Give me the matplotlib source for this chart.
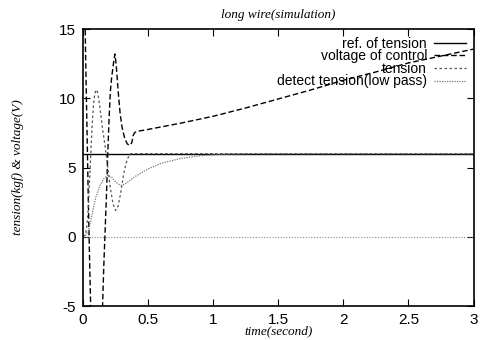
import matplotlib
matplotlib.use("Agg")
import matplotlib.pyplot as plt

plt.rcParams["axes.unicode_minus"] = False

# values
t_ref = [0, 3.0]
v_ref = [6, 6]

t_volt = [0, 0.015, 0.02, 0.03, 0.04, 0.05, 0.06, 0.07, 0.14, 0.15, 0.16, 0.17,
          0.18, 0.19, 0.2, 0.21, 0.22, 0.235, 0.245, 0.255, 0.27, 0.285, 0.30,
          0.32, 0.34, 0.36, 0.375, 0.385, 0.395, 0.41, 0.5, 0.75, 1.0, 1.25,
          1.5, 1.75, 2.0, 2.25, 2.5, 2.75, 3.0]
v_volt = [16, 16, 13, 8, 3, -1.5, -5.5, -8, -8, -5, -2, 0.5,
          3, 6, 8.5, 10.5, 11.5, 12.6, 13.2, 12.4, 10.5, 8.9, 7.9,
          7.1, 6.7, 6.6, 6.8, 7.3, 7.5, 7.6, 7.75, 8.2, 8.7, 9.3,
          9.95, 10.6, 11.3, 11.9, 12.55, 13.05, 13.55]

t_ten = [0, 0.02, 0.03, 0.04, 0.05, 0.06, 0.07, 0.08, 0.09, 0.1, 0.106, 0.115,
         0.13, 0.15, 0.17, 0.19, 0.21, 0.23, 0.25, 0.27, 0.29, 0.31, 0.33,
         0.35, 0.37, 0.4, 3.0]
v_ten = [0, 0.2, 0.8, 2, 4, 6, 8, 9.5, 10.3, 10.6, 10.6, 10.3,
         9.3, 7.8, 6.5, 5, 3.5, 2.4, 1.9, 2.2, 3.2, 4.4, 5.3,
         5.8, 6.0, 6.0, 6.0]

t_det = [0, 0.02, 0.04, 0.06, 0.08, 0.1, 0.13, 0.16, 0.19, 0.22, 0.25, 0.29,
         0.33, 0.4, 0.5, 0.6, 0.75, 0.9, 1.1, 1.3, 1.6, 3.0]
v_det = [0, 0.1, 0.4, 1.2, 2.1, 2.9, 3.7, 4.2, 4.45, 4.3, 3.95, 3.7,
         3.85, 4.35, 4.9, 5.3, 5.65, 5.85, 5.97, 6.0, 6.0, 6.0]

xticks = [0, 0.5, 1, 1.5, 2, 2.5, 3]
xtick_labels = ["0", "0.5", "1", "1.5", "2", "2.5", "3"]
yticks = [-5, 0, 5, 10, 15]

serif = ["Liberation Serif", "DejaVu Serif"]
sans = ["Liberation Sans", "DejaVu Sans"]

fig = plt.figure(figsize=(4.81, 3.40), dpi=100)
ax = fig.add_axes([0.1726, 0.1, 0.812, 0.8147])

# gnuplot-like dotted zero axis
ax.axhline(0, color="#888888", lw=0.8, ls=(0, (1, 1.5)))

ax.plot(t_ref, v_ref, color="black", lw=1.0, label="ref. of tension")
ax.plot(t_volt, v_volt, color="black", lw=1.0, ls=(0, (4, 2)),
        label="voltage of control")
ax.plot(t_ten, v_ten, color="#555555", lw=0.9, ls=(0, (2, 2)),
        label="tension")
ax.plot(t_det, v_det, color="#777777", lw=0.9, ls=(0, (1, 1)),
        label="detect tension(low pass)")

ax.set_xlim(0, 3)
ax.set_ylim(-5, 15)
ax.set_xticks(xticks)
ax.set_xticklabels(xtick_labels)
ax.set_yticks(yticks)
ax.tick_params(direction="in", length=5, top=True, right=True, labelsize=11,
               pad=5)
for lab in ax.get_xticklabels() + ax.get_yticklabels():
    lab.set_family(sans)
for s in ax.spines.values():
    s.set_linewidth(1.2)

ax.set_title("long wire(simulation)", family=serif, style="italic",
             fontsize=9.5, pad=8)
ax.set_xlabel("time(second)", family=serif, style="italic", fontsize=9.5,
              labelpad=-1)
ax.set_ylabel("tension(kgf) & voltage(V)", family=serif, style="italic",
              fontsize=9.5, labelpad=25)

leg = ax.legend(loc="upper right", markerfirst=False, frameon=False,
                prop={"family": sans, "size": 10}, handlelength=2.3,
                labelspacing=-0.1, borderaxespad=0.15, handletextpad=0.5)

fig.savefig("out.png", dpi=100)
